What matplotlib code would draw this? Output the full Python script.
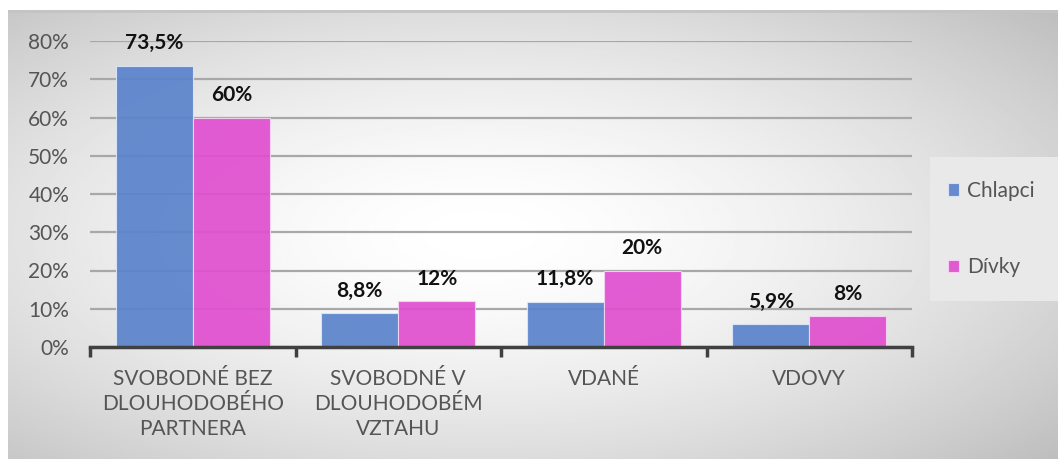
import numpy as np
import matplotlib
matplotlib.use("Agg")
import matplotlib.pyplot as plt
from matplotlib.patches import Rectangle

# data
categories = ["SVOBODNÉ BEZ\nDLOUHODOBÉHO\nPARTNERA", "SVOBODNÉ V\nDLOUHODOBÉM\nVZTAHU", "VDANÉ", "VDOVY"]
chlapci = [73.5, 8.8, 11.8, 5.9]
divky = [60, 12, 20, 8]
chlapci_labels = ["73,5%", "8,8%", "11,8%", "5,9%"]
divky_labels = ["60%", "12%", "20%", "8%"]
yticks = [0, 10, 20, 30, 40, 50, 60, 70, 80]

plt.rcParams['font.family'] = ['Lato', 'DejaVu Sans']
FS = 15

fig = plt.figure(figsize=(10.59, 4.59), dpi=100)
fig.patch.set_facecolor("white")
W, H = 1059, 459

# gradient background panel
bg = fig.add_axes([8 / W, 0, 1050 / W, 449 / H], zorder=-10)
yy, xx = np.mgrid[0:1:300j, 0:1:600j]
r = np.sqrt(((xx - 0.45) / 0.75) ** 2 + ((yy - 0.5) / 0.75) ** 2)
grad = 1.0 - 0.26 * np.clip(r, 0, 1) ** 1.6
bg.imshow(grad, cmap="gray", vmin=0, vmax=1, aspect="auto", extent=[0, 1, 0, 1])
bg.plot([0, 1], [0.998, 0.998], color="#c4c4c4", lw=2)
bg.set_xlim(0, 1)
bg.set_ylim(0, 1)
bg.axis("off")

# legend panel
fig.patches.append(Rectangle((930 / W, 1 - 301 / H), 128 / W, 144 / H, transform=fig.transFigure,
                             facecolor="#e9e9e9", edgecolor="none", zorder=-5))

ax = fig.add_axes([90 / W, 1 - 347 / H, 822 / W, 306 / H])
ax.patch.set_alpha(0)

x = np.arange(len(categories))
w = 0.375
b1 = ax.bar(x - w / 2, chlapci, w, color="#5b84cc", alpha=0.93, edgecolor="#dce6f5", linewidth=0.8, label="Chlapci", zorder=2)
b2 = ax.bar(x + w / 2, divky, w, color="#e04fcf", alpha=0.93, edgecolor="#f6d5f2", linewidth=0.8, label="Dívky", zorder=2)

for bars, labs in ((b1, chlapci_labels), (b2, divky_labels)):
    for bar, lab in zip(bars, labs):
        ax.annotate(lab, (bar.get_x() + bar.get_width() / 2, bar.get_height()),
                    xytext=(0, 9), textcoords="offset points", ha="center", va="bottom",
                    fontsize=FS, fontweight="bold", color="#111111")

ax.set_xlim(-0.5, len(categories) - 0.5)
ax.set_ylim(0, 80)
ax.set_yticks(yticks)
ax.set_yticklabels([f"{v}%" for v in yticks], fontsize=FS, color="#555555")
ax.yaxis.grid(True, color="#a8a8a8", linewidth=1.6, zorder=1)
ax.set_axisbelow(True)
ax.tick_params(axis="y", length=0, pad=15)

ax.set_xticks(x)
ax.set_xticklabels(categories, fontsize=FS, color="#555555", linespacing=1.32)
ax.tick_params(axis="x", length=0, pad=16)
ax.set_xticks(np.arange(len(categories) + 1) - 0.5, minor=True)
ax.tick_params(axis="x", which="minor", length=7, width=2.5, color="#404040", direction="out")

for s in ("top", "right", "left"):
    ax.spines[s].set_visible(False)
ax.spines["bottom"].set_color("#404040")
ax.spines["bottom"].set_linewidth(2.5)

leg = fig.legend(handles=[b1, b2], loc="upper left", bbox_to_anchor=(948 / W, 1 - 181 / H),
                 frameon=False, fontsize=FS, handlelength=0.55, handleheight=0.55,
                 handletextpad=0.35, labelspacing=2.7, borderpad=0, borderaxespad=0)
for t in leg.get_texts():
    t.set_color("#555555")

fig.savefig("out.png", dpi=100)
